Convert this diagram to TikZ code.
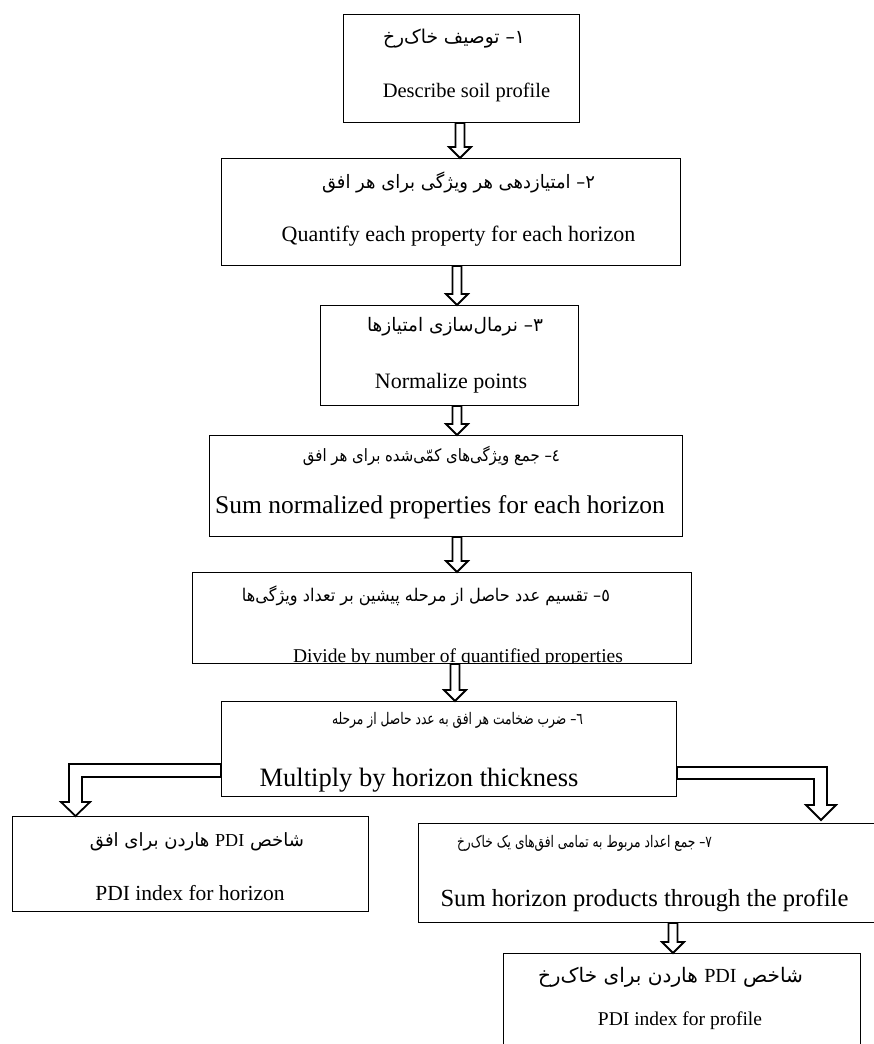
\documentclass[tikz,border=0pt]{standalone}
\usepackage{fontspec}
\usepackage{graphicx}
\setmainfont{Liberation Serif}
\newfontfamily\fafont[Script=Arabic]{DejaVu Sans}
\TeXXeTstate=1
\usetikzlibrary{calc}
\tikzset{
  box/.style={draw, line width=1pt, rectangle, inner sep=0pt, anchor=north west},
  en/.style={anchor=base, inner sep=0pt, font=\fontsize{#1pt}{#1pt}\selectfont},
  fa/.style={anchor=center, inner sep=0pt, font=\fafont\fontsize{#1pt}{#1pt}\selectfont},
  fa/.default=19,
  hollow/.style={draw, line width=1.8pt, fill=white, line join=miter},
}
\newcommand{\fatext}[2]{\resizebox{#1pt}{\height}{#2}}
\newcommand{\hollowdown}[3]{%
  \draw[hollow] let \p1=(#2.south), \p2=(#3.north), \p3=(#1,0) in
  (\x3-4.5pt,\y1) -- (\x3-4.5pt,\y2+11pt) -- (\x3-11pt,\y2+11pt) -- (\x3,\y2)
  -- (\x3+11pt,\y2+11pt) -- (\x3+4.5pt,\y2+11pt) -- (\x3+4.5pt,\y1) -- cycle;}
\begin{document}
\begin{tikzpicture}[x=1pt,y=-1pt]
\useasboundingbox (0,0) rectangle (874,1044);
% boxes
\node[box, minimum width=236pt, minimum height=108pt] (b1) at (343,14) {};
\node[box, minimum width=459pt, minimum height=107pt] (b2) at (221,158) {};
\node[box, minimum width=258pt, minimum height=100pt] (b3) at (320,305) {};
\node[box, minimum width=473pt, minimum height=101pt] (b4) at (209,435) {};
\node[box, minimum width=499pt, minimum height=91pt] (b5) at (192,572) {};
\node[box, minimum width=455pt, minimum height=95pt] (b6) at (221,701) {};
\node[box, minimum width=356pt, minimum height=95pt] (bh) at (12,816) {};
\node[box, minimum width=460pt, minimum height=99pt] (b7) at (418,823) {};
\node[box, minimum width=357pt, minimum height=100pt] (bp) at (503,953) {};
% texts
\node[fa=19] (t1f) at (454,39) {\fatext{142}{\beginR ١– توصیف خاک‌رخ\endR}};
\node[en=20.5] (t1e) at (466.5,97) {Describe soil profile};
\node[fa=18.5] (t2f) at (458.5,182) {\fatext{273}{\beginR ٢– امتیازدهی هر ویژگی برای هر افق\endR}};
\node[en=22] (t2e) at (458.5,241) {Quantify each property for each horizon};
\node[fa=18.6] (t3f) at (455,327) {\fatext{176}{\beginR ٣–  نرمال‌سازی امتیازها\endR}};
\node[en=22] (t3e) at (451,388) {Normalize points};
\node[fa=17] (t4f) at (431.5,456) {\fatext{257}{\beginR ٤– جمع ویژگی‌های کمّی‌شده برای هر افق\endR}};
\node[en=25.5] (t4e) at (440,513) {Sum normalized properties for each horizon};
\node[fa=17.5] (t5f) at (426,596) {\fatext{368}{\beginR ٥– تقسیم عدد حاصل از مرحله پیشین بر تعداد ویژگی‌ها\endR}};
\begin{scope}
  \clip (b5.north west) rectangle ($(b5.south east)+(0,-0.6)$);
  \node[en=19.5] (t5e) at (458,662) {Divide by number of quantified properties};
\end{scope}
\node[fa=16] (t6f) at (457.5,720) {\fatext{251}{\beginR ٦– ضرب ضخامت هر افق به عدد حاصل از مرحله\endR}};
\node[en=26.5] (t6e) at (419,786) {Multiply by horizon thickness};
\node[fa=18.3] (thf) at (197,842) {\fatext{214}{\beginR شاخص {\normalfont PDI} هاردن برای افق\endR}};
\node[en=21.5] (the) at (190,900) {PDI index for horizon};
\node[fa=16] (t7f) at (584.5,843) {\fatext{255}{\beginR ٧– جمع اعداد مربوط به تمامی افق‌های یک خاک‌رخ\endR}};
\node[en=24.6] (t7e) at (644.5,906) {Sum horizon products through the profile};
\node[fa=20] (tpf) at (670.5,977) {\fatext{265}{\beginR شاخص {\normalfont PDI} هاردن برای خاک‌رخ\endR}};
\node[en=19.5] (tpe) at (680,1025) {PDI index for profile};
% vertical hollow arrows
\hollowdown{460}{b1}{b2}
\hollowdown{457}{b2}{b3}
\hollowdown{457}{b3}{b4}
\hollowdown{457}{b4}{b5}
\hollowdown{455}{b5}{b6}
\hollowdown{673}{b7}{bp}
% bent hollow arrows
\draw[hollow] let \p1=(b6.west), \p2=(bh.north) in
  (\x1,-764pt) -- (69pt,-764pt) -- (69pt,\y2+14pt) -- (61pt,\y2+14pt) -- (75.5pt,\y2)
  -- (90pt,\y2+14pt) -- (82pt,\y2+14pt) -- (82pt,-777pt) -- (\x1,-777pt) -- cycle;
\draw[hollow] let \p1=(b6.east), \p2=(b7.north) in
  (\x1,-767pt) -- (827pt,-767pt) -- (827pt,\y2+18pt) -- (836pt,\y2+18pt) -- (821pt,\y2+3pt)
  -- (806pt,\y2+18pt) -- (814pt,\y2+18pt) -- (814pt,-779pt) -- (\x1,-779pt) -- cycle;
\end{tikzpicture}
\end{document}
